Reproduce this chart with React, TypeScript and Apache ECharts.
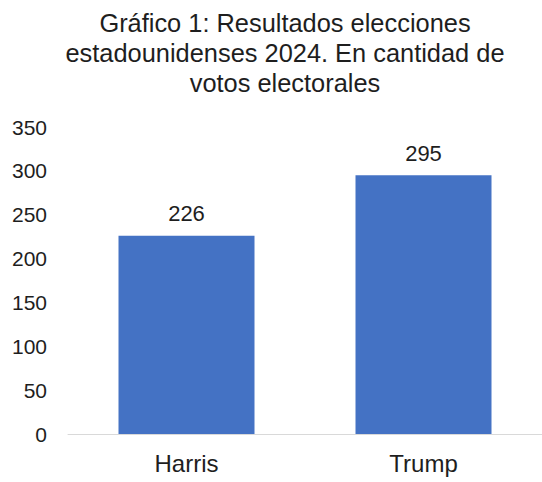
import React, { useEffect, useRef } from "react";
import * as echarts from "echarts";

const categories = ["Harris", "Trump"];
const votes = [226, 295];
const yTicks = [0, 50, 100, 150, 200, 250, 300, 350];
const titleLines = [
  "Gráfico 1: Resultados elecciones",
  "estadounidenses 2024. En cantidad de",
  "votos electorales",
];

const FONT = "'Liberation Sans', Arial, Helvetica, sans-serif";
const TEXT = "#1e1e1e";

export default function App() {
  const ref = useRef<HTMLDivElement>(null);
  useEffect(() => {
    if (!ref.current) return;
    const chart = echarts.init(ref.current, undefined, { renderer: "svg" });
    chart.setOption({
      animation: false,
      backgroundColor: "#ffffff",
      title: {
        text: titleLines.join("\n"),
        left: 285,
        top: 0,
        textAlign: "center",
        padding: [8, 0, 0, 0],
        textStyle: {
          fontFamily: FONT,
          fontSize: 25.4,
          lineHeight: 30,
          fontWeight: "normal",
          color: TEXT,
        },
      },
      grid: { left: 68, right: -3, top: 127, bottom: 48, containLabel: false },
      xAxis: {
        type: "category",
        data: categories,
        axisLine: { show: true, lineStyle: { color: "#d9d9d9", width: 1 } },
        axisTick: { show: false },
        axisLabel: { fontFamily: FONT, fontSize: 24, color: TEXT, margin: 17 },
      },
      yAxis: {
        type: "value",
        min: yTicks[0],
        max: yTicks[yTicks.length - 1],
        interval: yTicks[1] - yTicks[0],
        axisLine: { show: false },
        axisTick: { show: false },
        splitLine: { show: false },
        axisLabel: { fontFamily: FONT, fontSize: 21, color: TEXT, margin: 21 },
      },
      series: [
        {
          type: "bar",
          data: votes,
          barWidth: 136,
          itemStyle: { color: "#4472c4" },
          label: {
            show: true,
            position: "top",
            distance: 11,
            fontFamily: FONT,
            fontSize: 22,
            color: TEXT,
          },
        },
      ],
    });
    return () => chart.dispose();
  }, []);
  return (
    <div
      ref={ref}
      style={{ position: "fixed", left: 0, top: 0, width: 542, height: 482 }}
    />
  );
}
